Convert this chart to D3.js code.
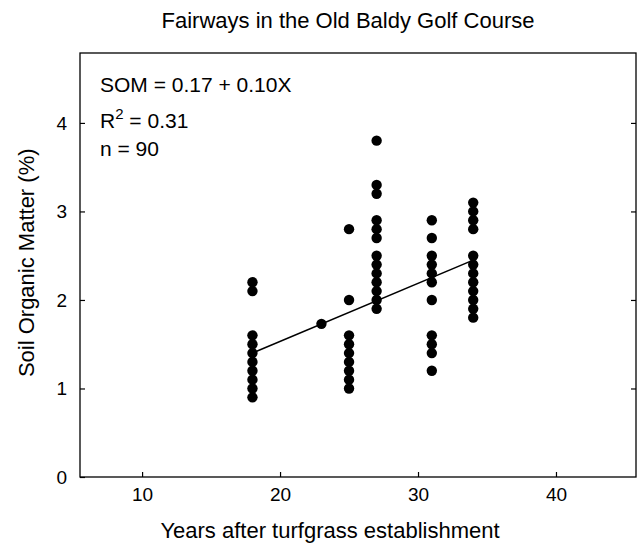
<!DOCTYPE html>
<html>
<head>
<meta charset="utf-8">
<script src="https://cdn.jsdelivr.net/npm/d3@7"></script>
<style>
  body { margin: 0; background: #fff; }
  text { font-family: "Liberation Sans", Arial, sans-serif; fill: #000; }
</style>
</head>
<body>
<div id="chart"></div>
<script>
// years after establishment, one entry per column of dots
const years = [18, 23, 25, 27, 31, 34];
// soil organic matter (%)
const somByYear = [
  [2.2, 2.1, 1.6, 1.5, 1.4, 1.3, 1.2, 1.1, 1.0, 0.9],
  [1.73],
  [2.8, 2.0, 1.6, 1.5, 1.4, 1.3, 1.2, 1.1, 1.0],
  [3.8, 3.3, 3.2, 2.9, 2.8, 2.7, 2.5, 2.4, 2.3, 2.2, 2.1, 2.0, 1.9],
  [2.9, 2.7, 2.5, 2.4, 2.3, 2.2, 2.0, 1.6, 1.5, 1.4, 1.2],
  [3.1, 3.0, 2.9, 2.8, 2.5, 2.4, 2.3, 2.2, 2.1, 2.0, 1.9, 1.8]
];
// fitted line end points as drawn
const fitX = [18, 34];
const fitY = [1.40, 2.45];
const xTicks = [10, 20, 30, 40];
const yTicks = [0, 1, 2, 3, 4];
const statLines = ["SOM = 0.17 + 0.10X", "R2 = 0.31", "n = 90"];

const W = 639, H = 543;
const margin = {left: 80, top: 53, right: 3, bottom: 66};

const svg = d3.select('#chart').append('svg')
  .attr('width', W).attr('height', H);

const x = d3.scaleLinear().domain([5.5, 45.8]).range([margin.left, W - margin.right]);
const y = d3.scaleLinear().domain([0, 4.79]).range([H - margin.bottom, margin.top]);

// frame
svg.append('rect')
  .attr('x', margin.left).attr('y', margin.top)
  .attr('width', W - margin.right - margin.left)
  .attr('height', H - margin.bottom - margin.top)
  .attr('fill', 'none').attr('stroke', '#000').attr('stroke-width', 1.3);

// axes with inward ticks
const xAxis = svg.append('g')
  .attr('transform', 'translate(0,' + (H - margin.bottom) + ')')
  .call(d3.axisBottom(x).tickValues(xTicks).tickFormat(d3.format('d'))
    .tickSizeInner(-5).tickSizeOuter(0).tickPadding(11));
const yAxis = svg.append('g')
  .attr('transform', 'translate(' + margin.left + ',0)')
  .call(d3.axisLeft(y).tickValues(yTicks).tickFormat(d3.format('d'))
    .tickSizeInner(-5).tickSizeOuter(0).tickPadding(13));
const yRight = svg.append('g')
  .attr('transform', 'translate(' + (W - margin.right) + ',0)')
  .call(d3.axisRight(y).tickValues(yTicks.slice(1)).tickSizeInner(-5).tickSizeOuter(0).tickFormat(''));

[xAxis, yAxis, yRight].forEach(g => {
  g.select('.domain').remove();
  g.selectAll('line').attr('stroke', '#000').attr('stroke-width', 1.2);
  g.selectAll('text').style('font-size', '19px').attr('fill', '#000')
    .style('font-family', '"Liberation Sans", Arial, sans-serif');
});

// points
const pts = [];
years.forEach((yr, i) => somByYear[i].forEach(v => pts.push({yr, v})));
svg.append('g').selectAll('circle').data(pts).enter().append('circle')
  .attr('cx', d => x(d.yr)).attr('cy', d => y(d.v)).attr('r', 5.2).attr('fill', '#000');

// regression line
svg.append('line')
  .attr('x1', x(fitX[0])).attr('y1', y(fitY[0]))
  .attr('x2', x(fitX[1])).attr('y2', y(fitY[1]))
  .attr('stroke', '#000').attr('stroke-width', 1.6);

// stats text
const st = svg.append('g').style('font-size', '21px');
st.append('text').attr('x', 100).attr('y', 92).text(statLines[0]);
const r2 = st.append('text').attr('x', 100).attr('y', 128);
r2.append('tspan').text('R');
r2.append('tspan').attr('dy', -9).style('font-size', '15px').text('2');
r2.append('tspan').attr('dy', 9).text(' = 0.31');
st.append('text').attr('x', 100).attr('y', 156).text(statLines[2]);

// titles
svg.append('text').attr('x', 348).attr('y', 28).attr('text-anchor', 'middle')
  .style('font-size', '22px').text('Fairways in the Old Baldy Golf Course');
svg.append('text').attr('x', 330).attr('y', 538).attr('text-anchor', 'middle')
  .style('font-size', '22px').text('Years after turfgrass establishment');
svg.append('text').attr('transform', 'translate(34,' + y(2.42) + ') rotate(-90)')
  .attr('text-anchor', 'middle').style('font-size', '22px').text('Soil Organic Matter (%)');
</script>
</body>
</html>
